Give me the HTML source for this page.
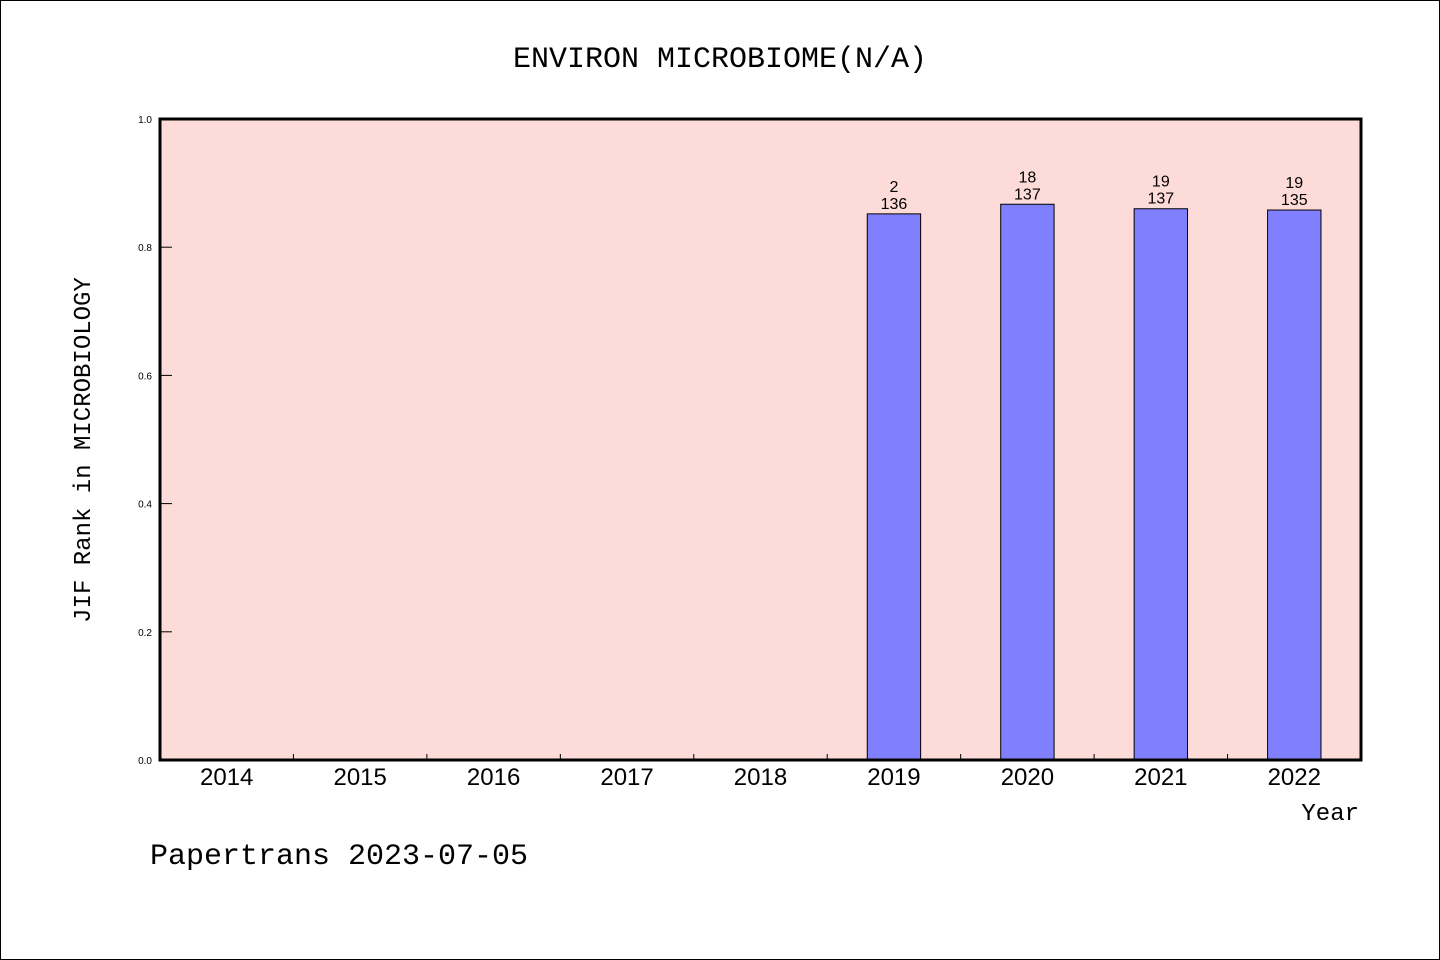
<!DOCTYPE html>
<html><head><meta charset="utf-8"><style>
html,body{margin:0;padding:0;background:#fff;}
svg{display:block;font-family:"Liberation Mono","DejaVu Sans Mono",monospace;}
</style></head><body>
<svg id="chart" width="1440" height="960" viewBox="0 0 1440 960">
<rect x="0.5" y="0.5" width="1439" height="959" fill="#fff" stroke="#000"/>
<text x="720" y="67" text-anchor="middle" font-size="30">ENVIRON MICROBIOME(N/A)</text>
<rect x="160" y="119" width="1201" height="641" fill="#fddbd8"/>
<g id="marks"></g>
<rect x="160" y="119" width="1201" height="641" fill="none" stroke="#000" stroke-width="3"/>
<text transform="translate(90,450) rotate(-90)" text-anchor="middle" font-size="24">JIF Rank in MICROBIOLOGY</text>
<text x="1359" y="820" text-anchor="end" font-size="24">Year</text>
<text x="150" y="864" font-size="30">Papertrans 2023-07-05</text>
</svg>
<script>
const categories=["2014","2015","2016","2017","2018","2019","2020","2021","2022"];
const values=[null,null,null,null,null,0.852,0.867,0.860,0.858];
const rankTop=["","","","","","2","18","19","19"];
const rankBottom=["","","","","","136","137","137","135"];
const yTicks=[0,0.2,0.4,0.6,0.8,1.0];
const NS="http://www.w3.org/2000/svg";
const X0=160,X1=1361,Y0=760,Y1=119;
const step=(X1-X0)/categories.length;
const xC=i=>X0+(i+0.5)*step;
const yS=v=>Y0-(v)*(Y0-Y1);
const g=document.getElementById("marks");
function mk(tag,attrs){const e=document.createElementNS(NS,tag);for(const k in attrs)e.setAttribute(k,attrs[k]);g.appendChild(e);return e;}
yTicks.forEach(t=>{
  const l=mk("line",{x1:X0,x2:X0+12,y1:yS(t),y2:yS(t),stroke:"#000","stroke-width":1});
  
  
  const tx=mk("text",{x:X0-8,y:yS(t)+4,"text-anchor":"end","font-size":10,"font-family":"Liberation Sans, sans-serif"});
  tx.textContent=t.toFixed(1);
  
  
});
categories.forEach((c,i)=>{
  if(i>0){
    const l=mk("line",{x1:X0+i*step,x2:X0+i*step,y1:Y0,y2:Y0-6,stroke:"#000","stroke-width":1});
    
    
  }
  const tx=mk("text",{x:xC(i),y:785,"text-anchor":"middle","font-size":24,"font-family":"Liberation Sans, sans-serif"});
  tx.textContent=c;
  
  
  const v=values[i];
  if(v!=null){
    const bw=step*0.4;
    const r=mk("rect",{x:xC(i)-bw/2,y:yS(v),width:bw,height:Y0-yS(v),fill:"#8080ff",stroke:"#000","stroke-width":1});
    
    
    const t1=mk("text",{x:xC(i),y:yS(v)-22,"text-anchor":"middle","font-size":16,"font-family":"Liberation Sans, sans-serif"});
    t1.textContent=rankTop[i];
    
    
    const t2=mk("text",{x:xC(i),y:yS(v)-5,"text-anchor":"middle","font-size":16,"font-family":"Liberation Sans, sans-serif"});
    t2.textContent=rankBottom[i];
    
    
  }
});
</script>
</body></html>
